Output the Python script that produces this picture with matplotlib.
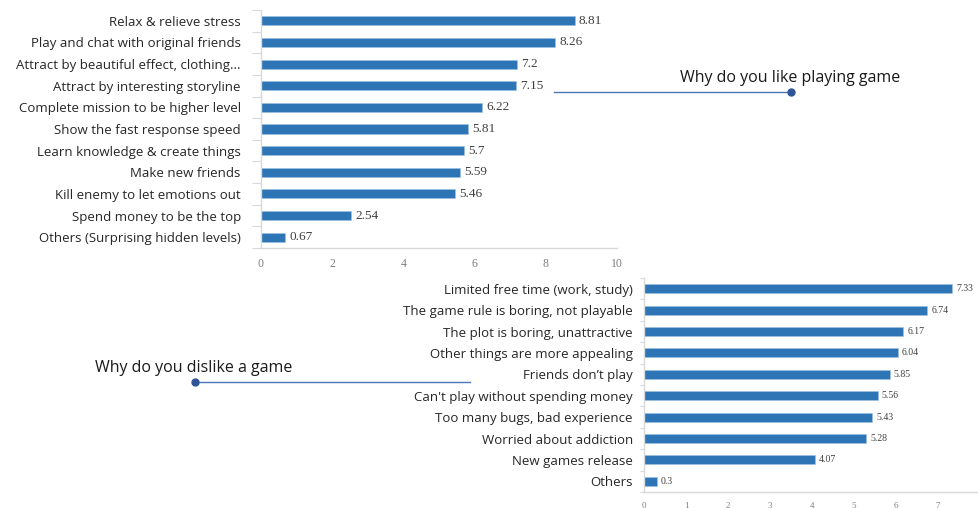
import matplotlib
matplotlib.use("Agg")
import matplotlib.pyplot as plt
from matplotlib.lines import Line2D
import numpy as np

like_labels = ["Relax & relieve stress", "Play and chat with original friends",
               "Attract by beautiful effect, clothing...", "Attract by interesting storyline",
               "Complete mission to be higher level", "Show the fast response speed",
               "Learn knowledge & create things", "Make new friends",
               "Kill enemy to let emotions out", "Spend money to be the top",
               "Others (Surprising hidden levels)"]
like_values = [8.81, 8.26, 7.2, 7.15, 6.22, 5.81, 5.7, 5.59, 5.46, 2.54, 0.67]
like_value_text = ["8.81", "8.26", "7.2", "7.15", "6.22", "5.81", "5.7", "5.59", "5.46", "2.54", "0.67"]
like_xticks = [0, 2, 4, 6, 8, 10]

dislike_labels = ["Limited free time (work, study)", "The game rule is boring, not playable",
                  "The plot is boring, unattractive", "Other things are more appealing",
                  "Friends don\u2019t play", "Can't play without spending money",
                  "Too many bugs, bad experience", "Worried about addiction",
                  "New games release", "Others"]
dislike_values = [7.33, 6.74, 6.17, 6.04, 5.85, 5.56, 5.43, 5.28, 4.07, 0.3]
dislike_value_text = ["7.33", "6.74", "6.17", "6.04", "5.85", "5.56", "5.43", "5.28", "4.07", "0.3"]
dislike_xticks = [0, 1, 2, 3, 4, 5, 6, 7, 8]

like_title = "Why do you like playing game"
dislike_title = "Why do you dislike a game"

BAR = "#2E75B6"
SPINE = "#D9D9D9"
LABEL_FONT = ["Open Sans", "DejaVu Sans"]
SERIF = ["Liberation Serif", "DejaVu Serif"]

W, H = 979, 508
fig = plt.figure(figsize=(W / 100, H / 100), dpi=100)
fig.patch.set_facecolor("white")


def px_rect(x0, x1, y0, y1):
    return [x0 / W, 1 - y1 / H, (x1 - x0) / W, (y1 - y0) / H]


def draw(ax, labels, values, texts, xticks, xmax, lab_size, val_size, tick_size, val_pad,
         lab_pad, tick_len):
    n = len(labels)
    y = np.arange(n)
    ax.barh(y, values, height=0.42, color=BAR, edgecolor="#9DC3E6", linewidth=0.4)
    for yi, v, t in zip(y, values, texts):
        ax.text(v + val_pad, yi, t, va="center", ha="left", fontsize=val_size,
                family=SERIF, color="#404040")
    ax.set_xlim(0, xmax)
    ax.set_ylim(n - 0.5, -0.5)
    ax.set_yticks(np.arange(n + 1) - 0.5)
    ax.set_yticklabels([])
    ax.set_yticks(y, minor=True)
    ax.set_yticklabels(labels, minor=True, fontsize=lab_size, family=LABEL_FONT, color="#262626")
    ax.tick_params(axis="y", which="major", length=tick_len, color=SPINE, width=0.8)
    ax.tick_params(axis="y", which="minor", length=0, pad=lab_pad)
    ax.set_xticks(xticks)
    ax.set_xticklabels([str(t) for t in xticks], fontsize=tick_size, family=SERIF, color="#7F7F7F")
    ax.tick_params(axis="x", length=0, pad=7)
    for s in ["top", "right"]:
        ax.spines[s].set_visible(False)
    for s in ["left", "bottom"]:
        ax.spines[s].set_color(SPINE)
        ax.spines[s].set_linewidth(1.0)
    ax.set_facecolor("none")


ax1 = fig.add_axes(px_rect(261, 617, 10, 248))
draw(ax1, like_labels, like_values, like_value_text, like_xticks, 10, 9.5, 9.5, 8.5, 0.12,
     14.5, 6.5)

ax2 = fig.add_axes(px_rect(644, 980, 278, 492))
draw(ax2, dislike_labels, dislike_values, dislike_value_text, dislike_xticks, 8, 9.5, 7, 6.5, 0.1,
     8, 3)

# annotations
LINE = "#4A76B8"
DOT = "#2F5597"
fig.add_artist(Line2D([554 / W, 791 / W], [1 - 92 / H, 1 - 92 / H], color=LINE, lw=1.0))
fig.add_artist(Line2D([791 / W], [1 - 92 / H], marker="o", markersize=5, color=DOT, lw=0))
fig.text(680 / W, 1 - 78 / H, like_title, fontsize=11.5, family=LABEL_FONT, color="#1A1A1A",
         ha="left", va="center")

fig.add_artist(Line2D([195 / W, 470 / W], [1 - 382 / H, 1 - 382 / H], color=LINE, lw=1.0))
fig.add_artist(Line2D([195 / W], [1 - 382 / H], marker="o", markersize=5, color=DOT, lw=0))
fig.text(95 / W, 1 - 368 / H, dislike_title, fontsize=11.5, family=LABEL_FONT, color="#1A1A1A",
         ha="left", va="center")

fig.savefig("out.png", dpi=100, facecolor="white")
